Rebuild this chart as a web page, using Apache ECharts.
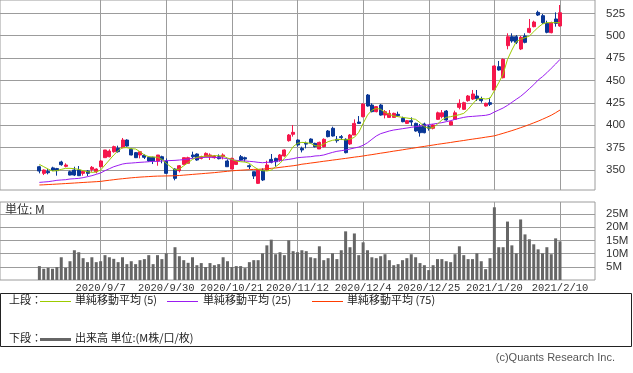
<!DOCTYPE html>
<html>
<head>
<meta charset="utf-8">
<script src="https://cdn.jsdelivr.net/npm/echarts@6/dist/echarts.min.js"></script>
<style>
html,body{margin:0;padding:0;background:#fff;}
#c{width:633px;height:373px;}
</style>
</head>
<body>
<div id="c"></div>
<script>
// ---- data ----
const dates = [
'2020/8/18','2020/8/19','2020/8/20','2020/8/21','2020/8/24','2020/8/25','2020/8/26','2020/8/27','2020/8/28','2020/8/31',
'2020/9/1','2020/9/2','2020/9/3','2020/9/4','2020/9/7','2020/9/8','2020/9/9','2020/9/10','2020/9/11','2020/9/14',
'2020/9/15','2020/9/16','2020/9/17','2020/9/18','2020/9/23','2020/9/24','2020/9/25','2020/9/28','2020/9/29','2020/9/30',
'2020/10/1','2020/10/2','2020/10/5','2020/10/6','2020/10/7','2020/10/8','2020/10/9','2020/10/12','2020/10/13','2020/10/14',
'2020/10/15','2020/10/16','2020/10/19','2020/10/20','2020/10/21','2020/10/22','2020/10/23','2020/10/26','2020/10/27','2020/10/28',
'2020/10/29','2020/10/30','2020/11/2','2020/11/4','2020/11/5','2020/11/6','2020/11/9','2020/11/10','2020/11/11','2020/11/12',
'2020/11/13','2020/11/16','2020/11/17','2020/11/18','2020/11/19','2020/11/20','2020/11/24','2020/11/25','2020/11/26','2020/11/27',
'2020/11/30','2020/12/1','2020/12/2','2020/12/3','2020/12/4','2020/12/7','2020/12/8','2020/12/9','2020/12/10','2020/12/11',
'2020/12/14','2020/12/15','2020/12/16','2020/12/17','2020/12/18','2020/12/21','2020/12/22','2020/12/23','2020/12/24','2020/12/25',
'2020/12/28','2020/12/29','2020/12/30','2021/1/4','2021/1/5','2021/1/6','2021/1/7','2021/1/8','2021/1/12','2021/1/13',
'2021/1/14','2021/1/15','2021/1/18','2021/1/19','2021/1/20','2021/1/21','2021/1/22','2021/1/25','2021/1/26','2021/1/27',
'2021/1/28','2021/1/29','2021/2/1','2021/2/2','2021/2/3','2021/2/4','2021/2/5','2021/2/8','2021/2/9','2021/2/10'
];
const labelDates = ['2020/9/7','2020/9/30','2020/10/21','2020/11/12','2020/12/4','2020/12/25','2021/1/20','2021/2/10'];

const opens = [
353.7,346.3,348.5,352.4,351.6,359.0,354.1,348.1,350.0,350.0,
346.3,348.9,350.7,348.1,353.7,363.8,364.9,370.5,374.2,375.0,
383.5,373.1,369.4,366.8,366.4,364.2,364.2,360.1,364.9,360.1,
null,351.1,349.3,356.3,357.5,366.8,367.9,363.0,364.9,364.9,
363.8,364.9,364.9,360.1,351.1,356.3,364.9,363.8,354.8,348.1,
335.1,350.0,350.0,361.9,363.0,361.2,365.7,382.8,389.9,383.5,
374.2,379.8,384.6,379.8,373.5,376.1,393.6,396.6,384.3,387.3,
384.3,379.1,389.1,403.6,409.6,433.8,422.6,415.2,422.6,411.4,
408.8,408.8,412.2,407.7,402.1,405.1,402.1,398.4,401.4,398.4,
396.6,406.6,409.6,415.9,400.3,406.6,420.0,417.8,427.5,429.3,
432.7,429.7,421.5,425.2,439.4,465.4,453.1,488.9,498.9,498.9,
485.2,499.7,503.8,510.1,526.1,522.4,513.8,503.4,518.7,510.9
];
const closes = [
348.9,350.0,347.0,350.0,349.3,356.0,355.6,344.4,344.4,343.7,
348.5,346.3,353.0,351.1,360.1,372.4,371.2,376.1,370.5,383.5,
376.8,366.8,363.8,370.5,364.2,360.1,360.1,366.8,361.9,346.3,
null,340.7,354.8,363.8,363.8,364.9,361.2,364.9,368.6,366.8,
365.7,362.7,366.8,353.7,363.0,360.4,361.2,362.3,353.7,343.3,
350.0,338.9,355.6,358.6,359.3,366.8,372.4,389.1,392.1,378.0,
372.4,379.0,380.5,376.1,380.9,384.3,387.3,388.0,382.8,386.2,
369.4,389.1,402.1,402.1,423.7,421.5,415.2,420.8,411.4,415.2,
413.3,413.3,410.7,404.0,405.1,403.6,393.6,391.7,391.7,396.6,
400.3,413.9,413.9,405.9,404.0,413.9,424.5,425.2,432.7,434.9,
429.7,427.5,424.5,423.4,466.2,461.7,473.6,498.9,494.1,492.6,
498.2,492.6,508.2,515.3,523.1,514.6,503.8,514.6,513.8,525.7
];
const lows = [
346.3,344.4,345.2,349.3,343.7,354.8,353.0,344.1,343.3,343.3,
343.7,343.3,348.1,346.3,353.0,363.8,364.2,369.4,369.4,374.2,
376.1,366.4,363.4,363.0,362.3,359.3,356.7,354.8,357.5,345.5,
null,338.5,347.4,356.3,357.5,363.0,360.4,361.9,364.2,361.2,
362.7,361.9,361.9,353.7,351.1,355.6,360.4,359.3,351.1,340.0,
334.4,337.7,349.3,357.5,353.7,359.3,364.9,381.7,387.3,376.1,
369.7,374.2,379.8,375.3,373.5,375.3,386.5,387.3,380.5,383.5,
368.6,378.0,389.1,401.4,408.8,420.8,414.4,414.4,410.7,407.7,
408.8,408.5,409.6,403.3,401.4,399.2,392.8,387.3,391.0,394.0,
395.4,405.9,407.7,405.1,399.9,405.9,417.8,417.0,426.3,428.2,
427.1,425.2,420.8,421.5,438.6,461.0,452.4,484.8,492.2,490.7,
484.0,491.5,502.7,509.4,522.0,513.1,502.7,502.7,510.1,510.1
];
const highs = [
354.8,350.7,351.1,353.7,352.4,360.4,357.5,349.3,353.7,354.5,
349.3,350.0,354.5,351.9,361.2,372.4,373.1,377.2,377.2,385.8,
384.3,374.2,370.1,370.5,367.5,364.9,364.9,366.8,366.0,363.0,
null,351.9,355.6,363.8,364.9,370.5,368.6,366.0,369.7,368.6,
366.8,367.5,368.6,361.9,363.8,361.2,366.8,364.9,356.3,348.1,
350.7,351.9,360.4,367.9,363.8,367.9,373.1,390.2,400.3,384.3,
376.1,381.7,385.4,380.5,381.7,385.4,394.7,398.4,388.0,389.1,
385.4,390.2,406.6,410.3,424.5,434.9,424.5,421.5,423.7,417.0,
417.0,414.1,415.2,409.6,405.9,408.8,402.9,401.4,402.9,400.3,
401.4,415.2,417.0,417.0,405.1,416.3,429.0,426.3,433.8,439.4,
439.4,431.9,425.2,430.8,467.3,471.8,474.7,502.7,502.7,500.8,
499.7,502.7,518.7,516.8,528.0,524.3,516.8,515.7,526.1,534.3
];
const volumes = [
5.25,4.25,4.6,4.25,4.9,8.6,4.6,7.1,11.25,10.5,
8.25,6.75,8.6,6.75,7.1,9.4,8.6,8.0,6.75,8.6,
6.0,7.1,6.0,7.5,7.9,9.4,6.0,9.4,7.9,10.1,
0,12.4,9.0,7.5,6.5,8.6,5.6,6.4,4.9,6.4,
5.6,6.0,8.6,7.1,4.9,5.25,5.25,4.5,6.75,7.5,
7.5,10.1,13.1,15.25,9.75,10.5,9.4,15.0,10.9,10.5,
11.25,10.9,8.6,8.25,12.75,7.5,8.25,10.1,7.9,11.25,
18.4,12.4,17.6,9.4,14.25,11.25,8.6,8.25,9.0,9.75,
7.5,5.6,6.0,7.5,8.25,9.75,8.6,6.4,5.6,3.75,
5.6,7.9,7.9,7.1,6.75,9.75,12.75,9.4,7.9,7.9,
10.1,7.1,4.1,8.25,27.5,12.4,12.4,22.1,13.1,10.1,
22.9,17.25,15.4,13.5,11.6,10.1,12.4,9.75,15.75,14.6
];
const ma5 = [
356.3,353.7,351.1,348.9,349.3,350.7,351.9,351.9,351.5,350.7,
349.3,348.1,347.4,347.8,350.0,355.6,361.2,366.8,371.6,375.0,
375.0,373.8,373.5,370.5,366.8,364.9,364.6,364.2,361.9,357.5,
null,350.0,351.1,354.8,358.2,361.9,364.2,364.9,365.7,365.7,
366.0,366.0,365.7,363.4,361.9,360.1,359.3,358.9,357.5,353.7,
350.7,349.3,348.9,350.0,353.7,357.5,363.0,368.6,376.1,379.8,
380.9,380.5,379.8,377.2,376.8,379.1,381.7,383.2,383.9,384.3,
383.5,384.6,386.5,392.1,402.1,411.4,416.7,418.9,417.8,414.4,
412.2,410.3,409.6,408.8,408.1,407.4,406.6,402.9,398.4,396.9,
397.3,401.4,405.9,408.8,409.6,410.7,411.8,413.3,417.8,423.7,
429.0,430.1,429.3,430.1,438.6,447.6,457.2,473.6,484.0,493.4,
496.0,497.8,499.7,504.5,509.4,513.1,514.6,514.6,514.6,514.6
];
const ma25 = [
336.2,336.6,337.0,337.7,338.5,338.9,339.2,340.0,340.3,340.7,
341.5,342.6,343.7,345.2,346.7,349.3,351.5,353.7,355.2,356.7,
357.5,357.8,358.2,358.6,358.9,359.3,359.7,359.7,360.1,360.4,
null,360.8,361.2,361.6,362.3,363.0,363.4,363.8,364.2,364.2,
364.2,363.8,363.4,362.7,361.6,360.8,360.4,360.1,359.7,359.3,
358.6,358.2,358.6,358.9,359.7,360.4,361.2,361.9,362.7,363.8,
364.2,364.6,364.9,365.7,366.0,366.8,368.3,369.7,370.9,371.6,
372.4,373.5,374.6,375.7,377.6,380.5,384.3,388.0,390.6,392.1,
393.6,394.7,395.4,396.2,396.9,397.7,398.4,399.2,399.9,400.7,
401.4,402.1,402.9,404.0,405.1,406.6,407.7,408.8,409.6,409.9,
410.3,410.7,411.1,412.2,414.8,417.0,419.3,422.2,425.6,429.0,
432.3,436.4,440.9,445.3,450.5,454.3,458.7,463.6,468.4,473.6
];
const ma75 = [
333.3,333.5,333.8,334.0,334.3,334.6,334.9,335.2,335.5,335.8,
336.1,336.4,336.7,337.0,337.3,338.0,338.6,339.2,339.8,340.3,
340.8,341.3,341.7,342.1,342.4,342.7,343.0,343.2,343.3,343.4,
null,343.6,343.9,344.3,344.7,345.1,345.5,345.9,346.3,346.7,
347.1,347.6,348.1,348.6,349.1,349.5,349.8,350.1,350.4,350.7,
350.8,351.1,351.5,351.9,352.3,353.0,353.6,354.2,354.8,355.5,
356.5,357.1,357.8,358.4,359.1,359.8,360.4,361.1,361.7,362.4,
363.0,363.7,364.4,365.0,365.7,366.5,367.2,368.0,368.8,369.5,
370.3,371.1,371.8,372.6,373.4,374.1,374.9,375.7,376.4,377.2,
377.9,378.7,379.4,380.1,380.8,381.6,382.3,383.0,383.8,384.5,
385.2,385.9,386.7,387.4,388.2,389.6,391.0,392.5,394.0,395.6,
397.3,399.0,400.8,402.7,404.6,406.7,408.9,411.2,414.0,417.0
];
const priceTicks = [350,375,400,425,450,475,500,525];
const volumeTicks = [5,10,15,20,25];

// ---- build ----
const PAD_L = 9, PAD_R = 8;
const cats = [];
for (let i = 0; i < PAD_L; i++) cats.push('pl' + i);
dates.forEach(d => cats.push(d));
for (let i = 0; i < PAD_R; i++) cats.push('pr' + i);
function padArr(arr, empty) {
  const out = [];
  for (let i = 0; i < PAD_L; i++) out.push(empty);
  arr.forEach(v => out.push(v));
  for (let i = 0; i < PAD_R; i++) out.push(empty);
  return out;
}
const ohlc = dates.map((d, i) => opens[i] == null ? ['-','-','-','-'] : [opens[i], closes[i], lows[i], highs[i]]);
const isLabel = (idx, val) => labelDates.indexOf(val) >= 0;
const GRID = '#9c9c9c';
const RED = '#f5174b', BLUE = '#0a3796';
const JP = '11px "Noto Sans CJK JP"';

const chart = echarts.init(document.getElementById('c'), null, {renderer: 'canvas'});
chart.setOption({
  animation: false,
  backgroundColor: '#fff',
  grid: [
    {left: 0, top: 0, width: 595, height: 190, show: true, borderColor: GRID, borderWidth: 1, backgroundColor: 'transparent'},
    {left: 0, top: 202, width: 595, height: 78, show: true, borderColor: GRID, borderWidth: 1, backgroundColor: 'transparent'}
  ],
  xAxis: [
    {type: 'category', gridIndex: 0, data: cats, boundaryGap: false,
     axisLine: {show: false}, axisTick: {show: false}, axisLabel: {show: false},
     splitLine: {show: true, interval: isLabel, lineStyle: {color: GRID, width: 1}}},
    {type: 'category', gridIndex: 1, data: cats, boundaryGap: false,
     axisLine: {show: false}, axisTick: {show: false},
     axisLabel: {show: true, interval: isLabel, margin: 3, color: '#333', fontSize: 10.5, fontFamily: 'Liberation Mono'},
     splitLine: {show: true, interval: isLabel, lineStyle: {color: GRID, width: 1}}}
  ],
  yAxis: [
    {type: 'value', gridIndex: 0, position: 'right', min: 327.7, max: 539.9, scale: true,
     axisLine: {show: false}, axisTick: {show: false, customValues: priceTicks},
     axisLabel: {show: true, customValues: priceTicks, margin: 11, color: '#333', fontSize: 11.5, fontFamily: 'Liberation Sans'},
     splitLine: {show: true, lineStyle: {color: GRID, width: 1}}},
    {type: 'value', gridIndex: 1, position: 'right', min: 0, max: 29.5,
     axisLine: {show: false}, axisTick: {show: false, customValues: volumeTicks},
     axisLabel: {show: true, customValues: volumeTicks, margin: 11, color: '#333', fontSize: 11.5, fontFamily: 'Liberation Sans', formatter: v => v + 'M'},
     splitLine: {show: true, lineStyle: {color: GRID, width: 1}}}
  ],
  series: [
    {type: 'candlestick', xAxisIndex: 0, yAxisIndex: 0, data: padArr(ohlc, ['-','-','-','-']), barWidth: 3.5,
     itemStyle: {color: RED, color0: BLUE, borderColor: RED, borderColor0: BLUE, borderWidth: 1}, z: 2},
    {type: 'line', xAxisIndex: 0, yAxisIndex: 0, data: padArr(ma75, null), showSymbol: false, connectNulls: true,
     lineStyle: {color: '#ff3c00', width: 1}, z: 3},
    {type: 'line', xAxisIndex: 0, yAxisIndex: 0, data: padArr(ma25, null), showSymbol: false, connectNulls: true,
     lineStyle: {color: '#9b1cf0', width: 1}, z: 3},
    {type: 'line', xAxisIndex: 0, yAxisIndex: 0, data: padArr(ma5, null), showSymbol: false, connectNulls: true,
     lineStyle: {color: '#9ccb00', width: 1}, z: 4},
    {type: 'bar', xAxisIndex: 1, yAxisIndex: 1, data: padArr(volumes, null), barWidth: 3,
     itemStyle: {color: '#666666'}}
  ],
  graphic: [
    {type: 'text', left: 5, top: 203, style: {text: '単位: M', font: '12px "Noto Sans CJK JP"', fill: '#333'}},
    {type: 'rect', shape: {x: 0.5, y: 293.5, width: 631, height: 53}, style: {fill: 'none', stroke: '#222', lineWidth: 1}},
    {type: 'text', left: 9, top: 294, style: {text: '上段：', font: JP, fill: '#222'}},
    {type: 'line', shape: {x1: 40, y1: 301.5, x2: 71, y2: 301.5}, style: {stroke: '#9ccb00', lineWidth: 1}},
    {type: 'text', left: 75, top: 294, style: {text: '単純移動平均 (5)', font: JP, fill: '#222'}},
    {type: 'line', shape: {x1: 167, y1: 301.5, x2: 198, y2: 301.5}, style: {stroke: '#9b1cf0', lineWidth: 1}},
    {type: 'text', left: 203, top: 294, style: {text: '単純移動平均 (25)', font: JP, fill: '#222'}},
    {type: 'line', shape: {x1: 312, y1: 301.5, x2: 343, y2: 301.5}, style: {stroke: '#ff3c00', lineWidth: 1}},
    {type: 'text', left: 347, top: 294, style: {text: '単純移動平均 (75)', font: JP, fill: '#222'}},
    {type: 'text', left: 9, top: 332, style: {text: '下段：', font: JP, fill: '#222'}},
    {type: 'line', shape: {x1: 40, y1: 339.5, x2: 71, y2: 339.5}, style: {stroke: '#666', lineWidth: 3}},
    {type: 'text', left: 75, top: 332, style: {text: '出来高 単位:(M株/口/枚)', font: JP, fill: '#222'}},
    {type: 'text', right: 18, top: 352, style: {text: '(c)Quants Research Inc.', font: '11px "Liberation Sans"', fill: '#555'}}
  ]
});
</script>
</body>
</html>
